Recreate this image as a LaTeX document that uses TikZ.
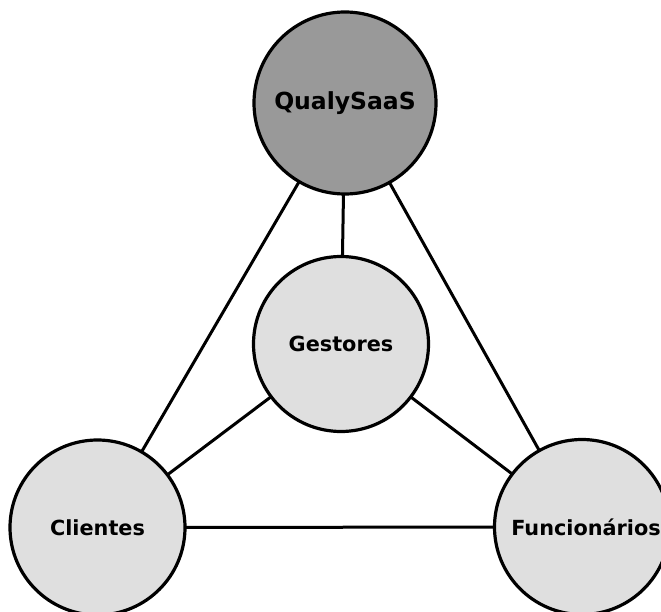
\documentclass[tikz,border=0pt]{standalone}
\usepackage{fontspec}
\setmainfont{DejaVu Sans}
\begin{document}
\begin{tikzpicture}[x=1pt,y=-1pt,
  actor/.style={circle,draw=black,line width=3.2pt,inner sep=0pt,
    fill=gray!25,minimum size=175pt,font=\bfseries\fontsize{20.8}{24}\selectfont},
  hub/.style={actor,fill=black!40,minimum size=182pt,font=\bfseries\fontsize{23.5}{28}\selectfont},
  link/.style={line width=3pt}]
\useasboundingbox (0,0) rectangle (661,612);
% connectors first, so the circles sit on top of them
\coordinate (q) at (345,103);
\coordinate (g) at (341,344);
\coordinate (c) at (97.5,527.5);
\coordinate (f) at (582,527);
\draw[link] (q) -- (g);
\draw[link] (q) -- (c);
\draw[link] (q) -- (f);
\draw[link] (g) -- (c);
\draw[link] (g) -- (f);
\draw[link] (c) -- (f);
% the four circles
\node[hub]   (qualy) at (q) {\raisebox{3pt}{QualySaaS}};
\node[actor] (gest)  at (g) {Gestores};
\node[actor] (cli)   at (c) {\raisebox{-5pt}{Clientes}};
\node[actor] (func)  at (f) {\hspace*{8pt}Funcionários};
\end{tikzpicture}
\end{document}
